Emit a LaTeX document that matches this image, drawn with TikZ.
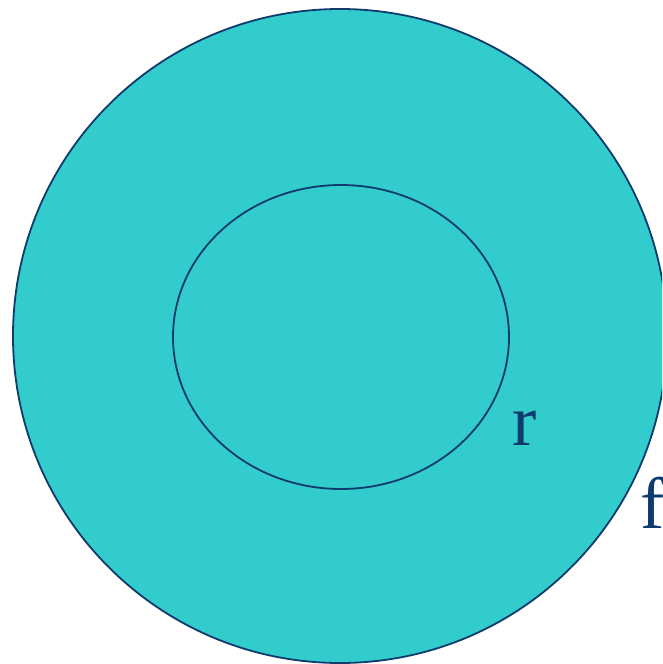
\documentclass[tikz,border=0pt]{standalone}
\usepackage{fontspec}
\setmainfont{Liberation Serif}
\definecolor{fillc}{HTML}{33CCCC}
\definecolor{linec}{HTML}{0D3B6E}
\begin{document}
\begin{tikzpicture}[x=1pt,y=-1pt,
  lbl/.style={text=linec,font=\fontsize{73}{73}\selectfont,inner sep=0pt,anchor=base west}]
\useasboundingbox (0,0) rectangle (662,664);
\begin{scope}
\clip (0,0) rectangle (662,664);
\draw[line width=1.8pt,draw=linec,fill=fillc] (340,336) ellipse [x radius=327, y radius=327];
\draw[line width=1.8pt,draw=linec] (341,337) ellipse [x radius=168, y radius=152];
\node[lbl] (r) at (512,445) {r};
\node[lbl] (f) at (640,528) {f};
\end{scope}
\end{tikzpicture}
\end{document}
